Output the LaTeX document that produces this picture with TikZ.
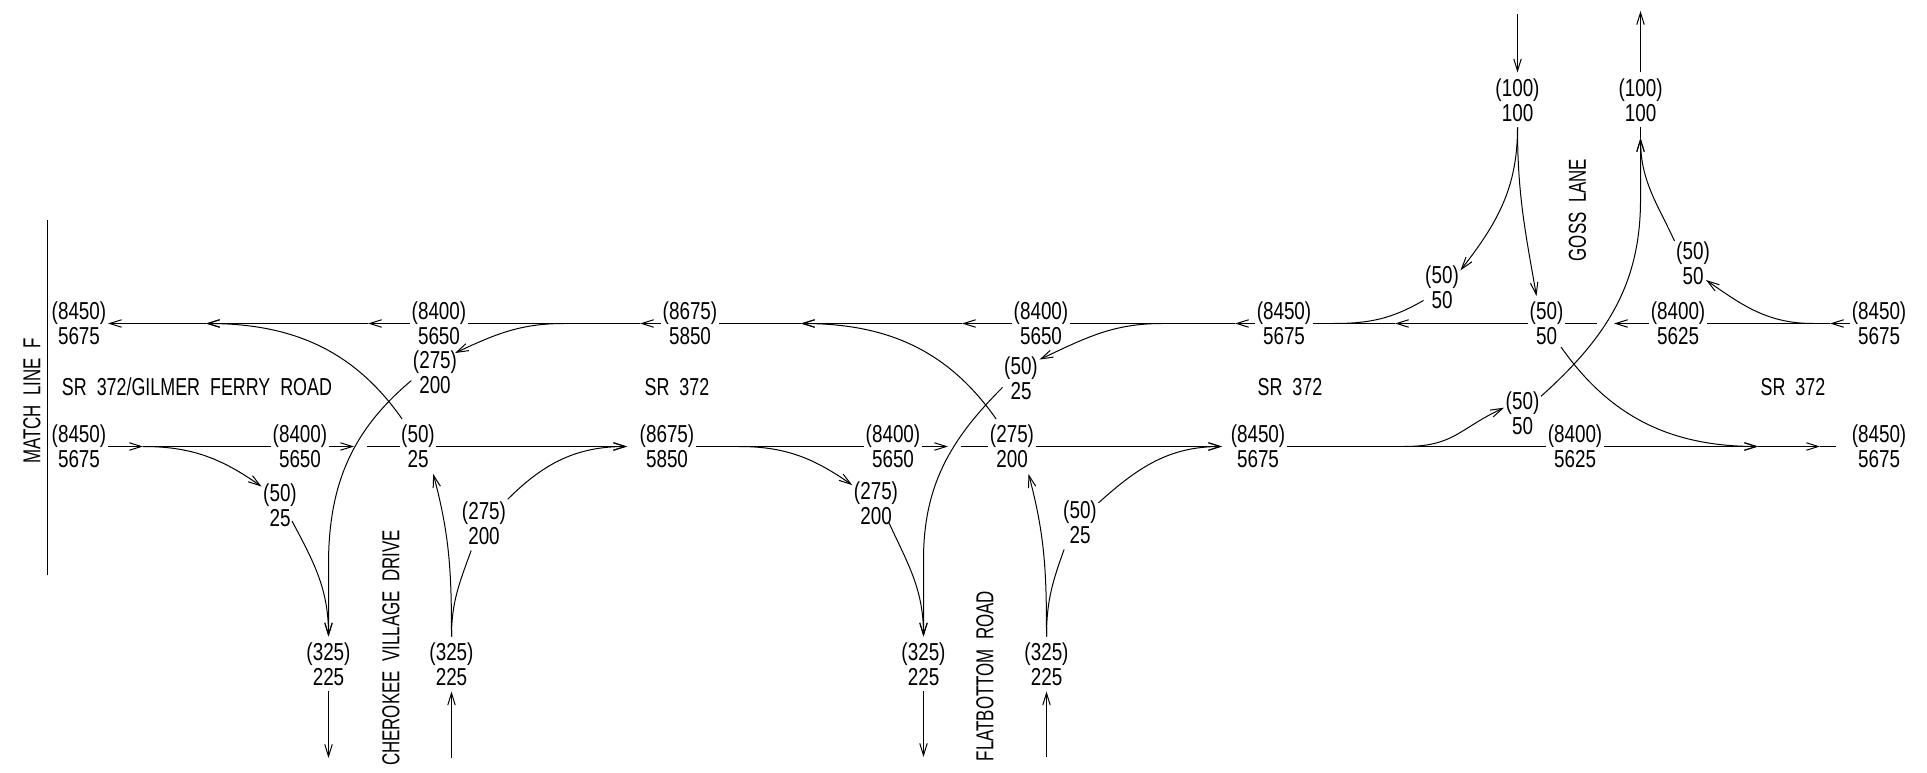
\documentclass[tikz,border=0pt]{standalone}
\usepackage{fontspec}
\setmainfont[FakeStretch=0.77]{Liberation Sans}
\newfontfamily\roadfont[FakeStretch=0.73,WordSpace=2]{Liberation Sans}
\newfontfamily\sidefont[FakeStretch=0.69,WordSpace=2]{Liberation Sans}
\usetikzlibrary{arrows.meta}
\tikzset{
  vol/.style={align=center, inner xsep=1.5pt, inner ysep=6pt, font=\fontsize{24.5}{24.6}\selectfont},
  roadname/.style={inner sep=0pt, font=\fontsize{24.5}{24.6}\selectfont\roadfont},
  sidename/.style={inner sep=0pt, rotate=90, font=\fontsize{24.5}{24.6}\selectfont\sidefont},
  traffic/.style={line width=1pt, line join=round},
  flow/.style={traffic, ->, >={Straight Barb[length=12pt,width=7.5pt]}},
}
\begin{document}
\begin{tikzpicture}[x=1pt,y=1pt]
\useasboundingbox (0,0) rectangle (1927,772);
% volumes on the two through lines
\foreach \n/\x/\a/\b in {t1/79/8450/5675,t2/439/8400/5650,t3/690/8675/5850,t4/1041/8400/5650,t5/1284/8450/5675,t6/1546.5/50/50,t7/1678/8400/5625,t8/1879/8450/5675} {
 \node[vol] (\n) at (\x,448.5) {(\a)\\\b};
}
\foreach \n/\x/\a/\b in {b1/79/8450/5675,b2/300/8400/5650,b3/418/50/25,b4/667/8675/5850,b5/893/8400/5650,b6/1012/275/200,b7/1258/8450/5675,b8/1575/8400/5625,b9/1879/8450/5675} {
 \node[vol] (\n) at (\x,325.5) {(\a)\\\b};
}
% volumes on the side roads
\foreach \n/\x/\y/\a/\b in {c1/435/400/275/200,c2/280/267/50/25,c3/484/249/275/200,c4/328.5/108/325/225,c5/451.5/108/325/225,d1/1021/394/50/25,d2/876/269/275/200,d3/1080/250/50/25,d4/923.5/108/325/225,d5/1046.5/108/325/225,e1/1517.5/672/100/100,e2/1640.5/672/100/100,e3/1442/485/50/50,e4/1693/509/50/50,e5/1522.5/359/50/50} {
 \node[vol] (\n) at (\x,\y) {(\a)\\\b};
}
% road names
\node[sidename] (matchname) at (32,371) {MATCH LINE F};
\node[roadname] (gilmer) at (197,385) {SR 372/GILMER FERRY ROAD};
\node[roadname] (sra) at (677,385) {SR 372};
\node[roadname] (srb) at (1290,385) {SR 372};
\node[roadname] (src) at (1793,385) {SR 372};
\node[sidename] (cherokee) at (391,124) {CHEROKEE VILLAGE DRIVE};
\node[sidename] (flatbottom) at (985,96) {FLATBOTTOM ROAD};
\node[sidename] (goss) at (1577.5,562) {GOSS LANE};
% points on the lines
\foreach \n/\x in {ta1/368,ta2/206,ta3/640,ta4/962,ta5/801,ta6/1235,ta7/1395,ta8/1597,ta9/1614,ta10/1830,ts1/564,ts2/1162,ts3/1334,ts4/1813} {
 \coordinate (\n) at (\x,448.5);
}
\foreach \n/\x in {ba1/143,ba2/354,ba3/367,ba4/627,ba5/739,ba6/948,ba7/961,ba8/1222,ba9/1404,ba10/1758,ba11/1820,ba12/1836} {
 \coordinate (\n) at (\x,325.5);
}
\coordinate (k1) at (328.5,207);
\coordinate (k2) at (923.5,212);
\coordinate (k3) at (1640.5,572);
\coordinate (k4) at (1640.5,634);
\coordinate (v1) at (328.5,14);
\coordinate (v2) at (451.5,14);
\coordinate (v3) at (923.5,15);
\coordinate (v4) at (1046.5,15);
\coordinate (v5) at (1517.5,758);
\coordinate (v6) at (1640.5,761);
\coordinate (m1) at (47.5,552);
\coordinate (m2) at (47.5,197);
\draw[traffic] (m1)--(m2);
% upper line, running left
\foreach \p/\q in {t2.west/ta1,ta1/ta2,ta2/t1.east,t3.west/ta3,t4.west/ta4,ta4/ta5,t5.west/ta6,t6.west/ta7,t7.west/ta9,t8.west/ta10} {
 \draw[flow] (\p)--(\q);
}
\foreach \p/\q in {ta3/t2.east,ta5/t3.east,ta6/t4.east,ta7/t5.east,t6.east/ta8,ta10/t7.east} {
 \draw[traffic] (\p)--(\q);
}
% lower line, running right
\foreach \p/\q in {b1.east/ba1,b2.east/ba2,b3.east/ba4,b5.east/ba6,b6.east/ba8,b8.east/ba10,ba10/ba11} {
 \draw[flow] (\p)--(\q);
}
\foreach \p/\q in {ba1/b2.west,ba3/b3.west,b4.east/b5.west,ba7/b6.west,b7.east/b8.west,ba11/ba12} {
 \draw[traffic] (\p)--(\q);
}
% legs
\foreach \p/\q in {c4.south/v1,v2/c5.south,d4.south/v3,v4/d5.south,v5/e1.north,e2.north/v6} {
 \draw[flow] (\p)--(\q);
}
% turns, first crossing
\draw[flow] (b3.120) to[out=125,in=0] (ta2);
\draw[flow] (ts1) to[out=180,in=25] ([shift={(20,19)}]c1.center);
\draw[flow] (c1.200) to[out=220,in=90] (k1) -- (c4.north);
\draw[flow] (ba1) to[out=0,in=145] (c2.135);
\draw[flow] ([shift={(12,-16)}]c2.center) to[out=-62,in=90] (c4.north);
\draw[flow] (c3.45) to[out=45,in=180] (ba4);
\draw[traffic] (c3.-115) to[out=-110,in=90] (c5.north);
\draw[flow] (c5.north) to[out=90,in=-75] (b3.-61);
% turns, second crossing
\draw[flow] (b6.120) to[out=125,in=0] (ta5);
\draw[flow] (ts2) to[out=180,in=25] (d1.45);
\draw[flow] (d1.207) to[out=225,in=90] (k2) -- (d4.north);
\draw[flow] (ba5) to[out=0,in=145] (d2.143);
\draw[flow] ([shift={(13,-20)}]d2.center) to[out=-65,in=90] (d4.north);
\draw[flow] (d3.46) to[out=42,in=180] (ba8);
\draw[traffic] (d3.-120) to[out=-110,in=90] (d5.north);
\draw[flow] (d5.north) to[out=90,in=-75] (b6.-59);
% turns, third crossing
\draw[flow] (e1.south) to[out=-90,in=52] (e3.42);
\draw[flow] (e1.south) to[out=-90,in=100] (t6.110);
\draw[traffic] (e3.216) to[out=210,in=0] (ts3);
\draw[flow] (ts4) to[out=180,in=-35] ([shift={(13,-17)}]e4.center);
\draw[flow] (e4.130) to[out=115,in=-90] (k4);
\draw[traffic] (e2.south) -- (k4);
\draw[flow] (e5.42) to[out=42,in=-90] (k3) -- (k4);
\draw[flow] (ba9) to[out=0,in=205,looseness=1.2] (e5.164);
\draw[flow] ([shift={(14.5,-23.5)}]t6.center) to[out=-55,in=180] (ba10);
\end{tikzpicture}
\end{document}
